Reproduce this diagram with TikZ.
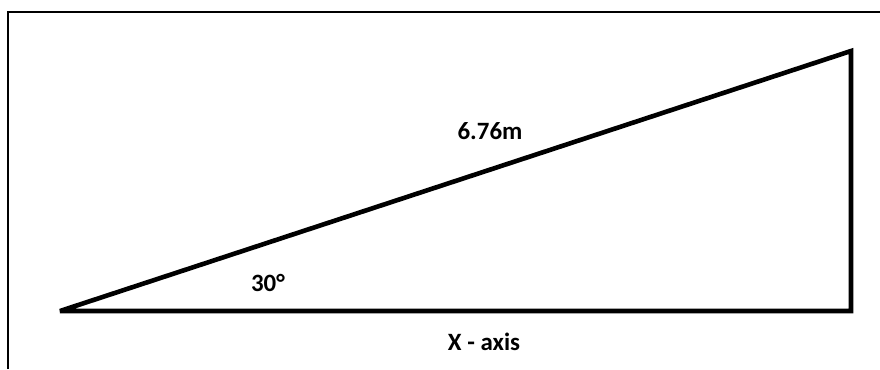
\documentclass[tikz,border=0pt]{standalone}
\usepackage{fontspec}
\setmainfont{Carlito}
\usetikzlibrary{positioning,calc}
\tikzset{
  frame/.style={draw=black,line width=2.2bp},
  side/.style={draw=black,line width=4.6bp,line join=miter,miter limit=2.1},
  lab/.style={font=\fontsize{25}{28}\selectfont\bfseries,inner sep=0pt},
}

\begin{document}
\begin{tikzpicture}[x=1bp,y=-1bp]
\useasboundingbox (0,0) rectangle (880,369);
\coordinate (f0) at (8,12);
\coordinate (f1) at (880,12);
\coordinate (f2) at (8,369);
\coordinate (t0) at (60,311);
\coordinate (t1) at (851,311);
\coordinate (t2) at (851,51);
\draw[frame] (f2)--(f0)--(f1);
\draw[side] (t0)--(t1)--(t2)--cycle;
\node[lab] (hyp) at (490,131) {6.76m};
\node[lab] (ang) at (268,283) {30°};
\node[lab] (xax) at (484,342) {X - axis};
\end{tikzpicture}
\end{document}
